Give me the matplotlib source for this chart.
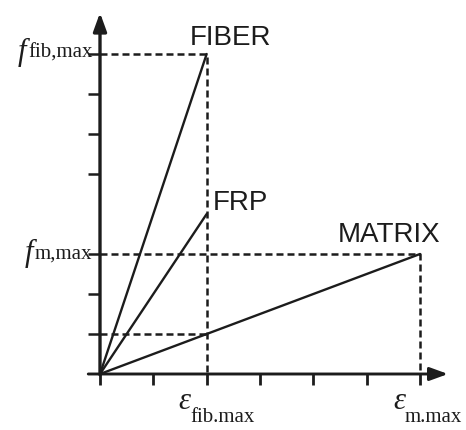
import matplotlib
matplotlib.use('Agg')
import matplotlib.pyplot as plt

# stress-strain sketch: fiber, FRP and matrix (strain units, stress units)
curves = ['FIBER', 'FRP', 'MATRIX']
strain_end = [2, 2, 6]
stress_end = [8, 4, 3]
label_pos = [(1.69, 8.22), (2.12, 4.1), (4.46, 3.3)]

# dashed guide lines
eps_fib_max = 2
eps_m_max = 6
f_fib_max = 8
f_m_max = 3
f_m_at_fib = 1

x_ticks = [0, 1, 2, 3, 4, 5, 6]
y_ticks = [1, 2, 3, 5, 6, 7, 8]

ink = '#1c1c1c'

fig = plt.figure(figsize=(4.66, 4.30), dpi=100)
ax = fig.add_axes([0, 0, 1, 1])
ax.set_xlim(-1.875, 6.8625)
ax.set_ylim(-1.4, 9.35)
for s in ax.spines.values():
    s.set_visible(False)
ax.spines['bottom'].set_position(('data', 0))
ax.spines['left'].set_position(('data', 0))

ax.set_xticks(x_ticks)
ax.set_yticks(y_ticks)
ax.set_xticklabels([])
ax.set_yticklabels([])
ax.tick_params(axis='x', direction='out', length=8, width=2, color=ink)
ax.tick_params(axis='y', direction='out', length=8.5, width=1.8, color=ink)

# axes with arrows
arr = dict(arrowstyle='-|>,head_length=0.55,head_width=0.2', lw=2.4, color=ink,
           shrinkA=0, shrinkB=0, mutation_scale=20)
ax.annotate('', xy=(0, 9.03), xytext=(0, -0.02), arrowprops=arr)
arr2 = dict(arr)
arr2['lw'] = 2.1
ax.annotate('', xy=(6.525, 0), xytext=(-0.22, 0), arrowprops=arr2)

# dashed guides
dash = dict(color=ink, lw=1.8, ls=(0, (2.8, 1.6)))
ax.plot([0, eps_fib_max, eps_fib_max], [f_fib_max, f_fib_max, 0], **dash)
ax.plot([0, eps_m_max, eps_m_max], [f_m_max, f_m_max, 0], **dash)
ax.plot([0, eps_fib_max], [f_m_at_fib, f_m_at_fib], **dash)

# material lines
for name, xe, ye, (tx, ty) in zip(curves, strain_end, stress_end, label_pos):
    ax.plot([0, xe], [0, ye], color=ink, lw=1.7, solid_capstyle='round')
    ax.text(tx, ty, name, fontsize=20, family='Liberation Sans', color=ink,
            ha='left', va='baseline')


def sym_right(x, y, main, sub, dy=-2):
    # subscript text ends at x, main letter sits left of it
    t = ax.text(x, y, sub, fontsize=15, family='Liberation Serif', color=ink,
                ha='right', va='baseline')
    ax.annotate(main, xy=(0, 0), xycoords=t, xytext=(-1, -dy),
                textcoords='offset points', fontsize=22, family='Liberation Serif',
                style='italic', color=ink, ha='right', va='baseline')


def sym_left(x, y, main, sub, dy=-4.5):
    m = ax.text(x, y, main, fontsize=22, family='Liberation Serif', style='italic',
                color=ink, ha='left', va='baseline')
    ax.annotate(sub, xy=(1, 0), xycoords=m, xytext=(0, dy),
                textcoords='offset points', fontsize=15, family='Liberation Serif',
                color=ink, ha='left', va='baseline')


sym_right(-0.14, (374 - 58) / 40, 'f', 'fib,max')
sym_right(-0.14, (374 - 259) / 40, 'f', 'm,max')
sym_left((178 - 100) / 53.33, (374 - 409) / 40, '\u03b5', 'fib.max')
sym_left((393 - 100) / 53.33, (374 - 409) / 40, '\u03b5', 'm.max')

fig.savefig('out.png', dpi=100, facecolor='white')
